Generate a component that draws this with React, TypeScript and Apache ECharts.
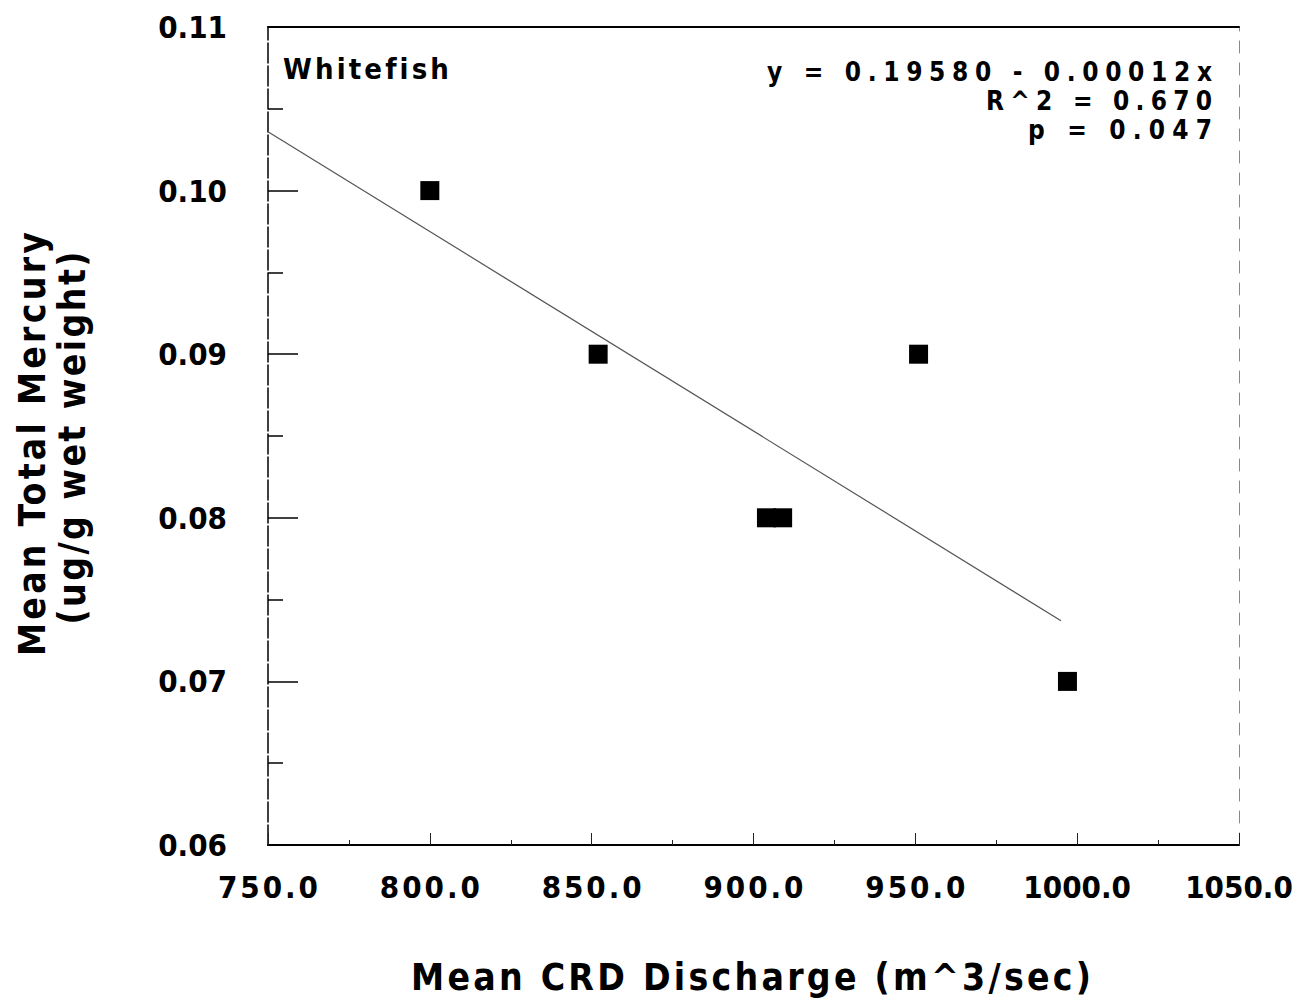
import React, { useEffect, useRef } from "react";
import * as echarts from "echarts";

const discharge = [800, 852, 904, 909, 951, 997];
const mercury = [0.1, 0.09, 0.08, 0.08, 0.09, 0.07];
const fitIntercept = 0.1951;
const fitSlope = -0.000122;
const fitRange = [750, 995];
const xTicks = { min: 750, max: 1050, interval: 50 };
const yTicks = { min: 0.06, max: 0.11, interval: 0.01 };
const speciesLabel = "Whitefish";
const statLines = ["y = 0.19580 - 0.00012x", "R^2 = 0.670", "p = 0.047"];
const xTitle = "Mean CRD Discharge (m^3/sec)";
const yTitleLines = ["Mean Total Mercury", "(ug/g wet weight)"];

const FONT = "'Liberation Sans Narrow', 'DejaVu Sans Condensed', 'Liberation Sans', sans-serif";

// target rendered widths (px) of the texts, measured on the reference
function targetWidth(t: string): number {
  if (t === xTitle) return 680;
  if (t === yTitleLines[0]) return 424;
  if (t === yTitleLines[1]) return 373;
  if (t === speciesLabel) return 165;
  if (t === statLines[0]) return 445;
  if (t === statLines[1]) return 226;
  if (t === statLines[2]) return 184;
  if (/^\d{3}\.0$/.test(t)) return 100;
  if (/^\d{4}\.0$/.test(t)) return 106;
  if (/^0\.\d\d$/.test(t)) return 68;
  return 0;
}

export default function App() {
  const ref = useRef<HTMLDivElement>(null);
  useEffect(() => {
    if (!ref.current) return;
    const el = ref.current;
    const chart = echarts.init(el, null, { renderer: "svg" });
    const points = discharge.map((x, i) => [x, mercury[i]]);
    const fitLine = fitRange.map((x) => [x, fitIntercept + fitSlope * x]);
    const applySpacing = () => {
      el.querySelectorAll("text").forEach((n) => {
        const node = n as SVGTextElement;
        const t = (node.textContent || "").trim();
        const w = targetWidth(t);
        if (!w) return;
        node.style.letterSpacing = "0px";
        node.removeAttribute("dx");
        const natural = node.getComputedTextLength();
        const s = Math.max(0, (w - natural) / Math.max(1, t.length - 1));
        node.style.letterSpacing = `${s}px`;
        const anchor = getComputedStyle(node).textAnchor || node.getAttribute("text-anchor");
        if (anchor === "end") node.setAttribute("dx", `${s}`);
        else if (anchor === "middle") node.setAttribute("dx", `${s / 2}`);
      });
    };
    chart.on("finished", applySpacing);
    chart.setOption({
      animation: false,
      backgroundColor: "#ffffff",
      grid: { left: 268, right: 58, top: 27, bottom: 154 },
      xAxis: [
        {
          type: "value",
          min: xTicks.min,
          max: xTicks.max,
          interval: xTicks.interval,
          position: "bottom",
          axisLine: { lineStyle: { color: "#000", width: 2 } },
          axisTick: { inside: true, length: 12, lineStyle: { color: "#222", width: 1 } },
          minorTick: { show: true, splitNumber: 2, length: 5, lineStyle: { color: "#222" } },
          splitLine: { show: false },
          axisLabel: {
            formatter: (v: number) => v.toFixed(1),
            fontFamily: FONT,
            fontWeight: "bold",
            fontSize: 31,
            color: "#000",
            margin: 26,
          },
        },
        {
          type: "value",
          min: xTicks.min,
          max: xTicks.max,
          position: "top",
          axisLine: { lineStyle: { color: "#000", width: 2 } },
          axisTick: { show: false },
          axisLabel: { show: false },
          splitLine: { show: false },
        },
      ],
      yAxis: [
        {
          type: "value",
          min: yTicks.min,
          max: yTicks.max,
          interval: yTicks.interval,
          position: "left",
          axisLine: { lineStyle: { color: "#000", width: 1.5, type: [20, 3] } },
          axisTick: { inside: true, length: 30, lineStyle: { color: "#000", width: 1.5 } },
          minorTick: { show: true, splitNumber: 2, length: 15, lineStyle: { color: "#000", width: 1.5 } },
          splitLine: { show: false },
          axisLabel: {
            formatter: (v: number) => v.toFixed(2),
            fontFamily: FONT,
            fontWeight: "bold",
            fontSize: 31,
            color: "#000",
            margin: 41,
          },
        },
        {
          type: "value",
          min: yTicks.min,
          max: yTicks.max,
          position: "right",
          axisLine: { lineStyle: { color: "#888", width: 1, type: [12, 10] } },
          axisTick: { show: false },
          axisLabel: { show: false },
          splitLine: { show: false },
        },
      ],
      series: [
        {
          type: "line",
          data: fitLine,
          showSymbol: false,
          symbol: "none",
          lineStyle: { color: "#555", width: 1.2 },
          z: 1,
        },
        {
          type: "scatter",
          data: points,
          symbol: "rect",
          symbolSize: 19,
          itemStyle: { color: "#000", opacity: 1 },
          z: 2,
        },
      ],
      graphic: [
        {
          type: "text",
          x: 283,
          y: 69,
          style: {
            text: speciesLabel,
            font: `bold 29px ${FONT}`,
            fill: "#000",
            textAlign: "left",
            textVerticalAlign: "middle",
          },
        },
        ...statLines.map((t, i) => ({
          type: "text",
          x: 1212,
          y: 72 + i * 29,
          style: {
            text: t,
            font: `bold 26px ${FONT}`,
            fill: "#000",
            textAlign: "right",
            textVerticalAlign: "middle",
          },
        })),
        {
          type: "text",
          x: 751,
          y: 977,
          style: {
            text: xTitle,
            font: `bold 37px ${FONT}`,
            fill: "#000",
            textAlign: "center",
            textVerticalAlign: "middle",
          },
        },
        ...yTitleLines.map((t, i) => ({
          type: "text",
          x: 32 + i * 40,
          y: 444 - i * 6,
          rotation: Math.PI / 2,
          style: {
            text: t,
            font: `bold 37px ${FONT}`,
            fill: "#000",
            textAlign: "center",
            textVerticalAlign: "middle",
          },
        })),
      ],
    });
    applySpacing();
    const timer = setTimeout(applySpacing, 50);
    return () => {
      clearTimeout(timer);
      chart.dispose();
    };
  }, []);
  return (
    <div
      ref={ref}
      style={{ position: "fixed", left: 0, top: 0, width: 1297, height: 999, background: "#fff" }}
    />
  );
}
